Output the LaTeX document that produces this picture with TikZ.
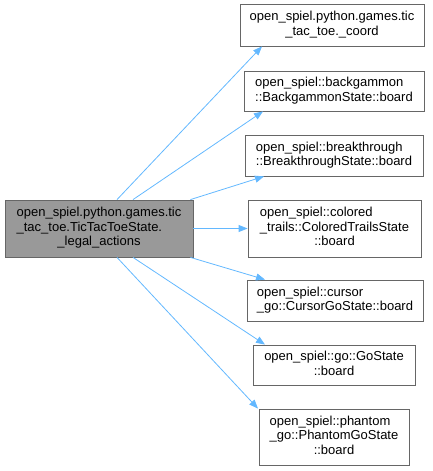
\documentclass[tikz,border=0pt]{standalone}
\usepackage{fontspec}
\setmainfont{Liberation Sans}
\usetikzlibrary{calc,arrows.meta}

% first lines left, last line centred
\newcommand{\fnlabel}[2]{\begin{tabular}{@{}l@{}}#1\\\multicolumn{1}{@{}c@{}}{#2}\end{tabular}}

\tikzset{
  fnbox/.style={draw=boxgray,fill=white,line width=0.8bp,inner sep=0pt,
    font=\fontsize{13bp}{14.5bp}\selectfont},
  focusbox/.style={fnbox,fill=focusgray},
  callarrow/.style={draw=edgeblue,line width=0.8bp,-{Triangle[length=9bp,width=7bp]}}
}
\definecolor{boxgray}{HTML}{666666}
\definecolor{focusgray}{HTML}{999999}
\definecolor{edgeblue}{HTML}{63B8FF}

\begin{document}
\begin{tikzpicture}[x=1bp,y=-1bp]
  \useasboundingbox (0,0) rectangle (433,471);
  % caller
  \node[focusbox,minimum width=188bp,minimum height=57bp] (legal) at (99,228.5)
    {\fnlabel{open\_spiel.python.games.tic\\\_tac\_toe.TicTacToeState.}{\_legal\_actions}};
  % callees
  \node[fnbox,minimum width=184bp,minimum height=42bp] (coord) at (332,25)
    {\fnlabel{open\_spiel.python.games.tic}{\_tac\_toe.\_coord}};
  \node[fnbox,minimum width=180bp,minimum height=40bp] (backgammon) at (334,91)
    {\fnlabel{open\_spiel::backgammon}{::BackgammonState::board}};
  \node[fnbox,minimum width=178bp,minimum height=41bp] (breakthrough) at (334,155.5)
    {\fnlabel{open\_spiel::breakthrough}{::BreakthroughState::board}};
  \node[fnbox,minimum width=173bp,minimum height=57bp] (colored) at (334.5,228.5)
    {\fnlabel{open\_spiel::colored\\\_trails::ColoredTrailsState}{::board}};
  \node[fnbox,minimum width=176bp,minimum height=41bp] (cursor) at (335,300.5)
    {\fnlabel{open\_spiel::cursor}{\_go::CursorGoState::board}};
  \node[fnbox,minimum width=162bp,minimum height=40bp] (go) at (334,365)
    {\fnlabel{open\_spiel::go::GoState}{::board}};
  \node[fnbox,minimum width=150bp,minimum height=56bp] (phantom) at (334,437)
    {\fnlabel{open\_spiel::phantom\\\_go::PhantomGoState}{::board}};
  % calls
  \draw[callarrow] ($(legal.north)+(18,0)$) -- ($(coord.south)+(-70,0)$);
  \draw[callarrow] ($(legal.north)+(34,0)$) -- ($(backgammon.south)+(-71,0)$);
  \draw[callarrow] ($(legal.north east)+(-3,0)$) -- ($(breakthrough.south)+(-70,0)$);
  \draw[callarrow] (legal.east) -- (colored.west);
  \draw[callarrow] ($(legal.south east)+(-3,0)$) -- ($(cursor.north)+(-70,0)$);
  \draw[callarrow] ($(legal.south)+(34,0)$) -- ($(go.north)+(-69,0)$);
  \draw[callarrow] ($(legal.south)+(18,0)$) -- ($(phantom.north)+(-76,0)$);
\end{tikzpicture}
\end{document}
